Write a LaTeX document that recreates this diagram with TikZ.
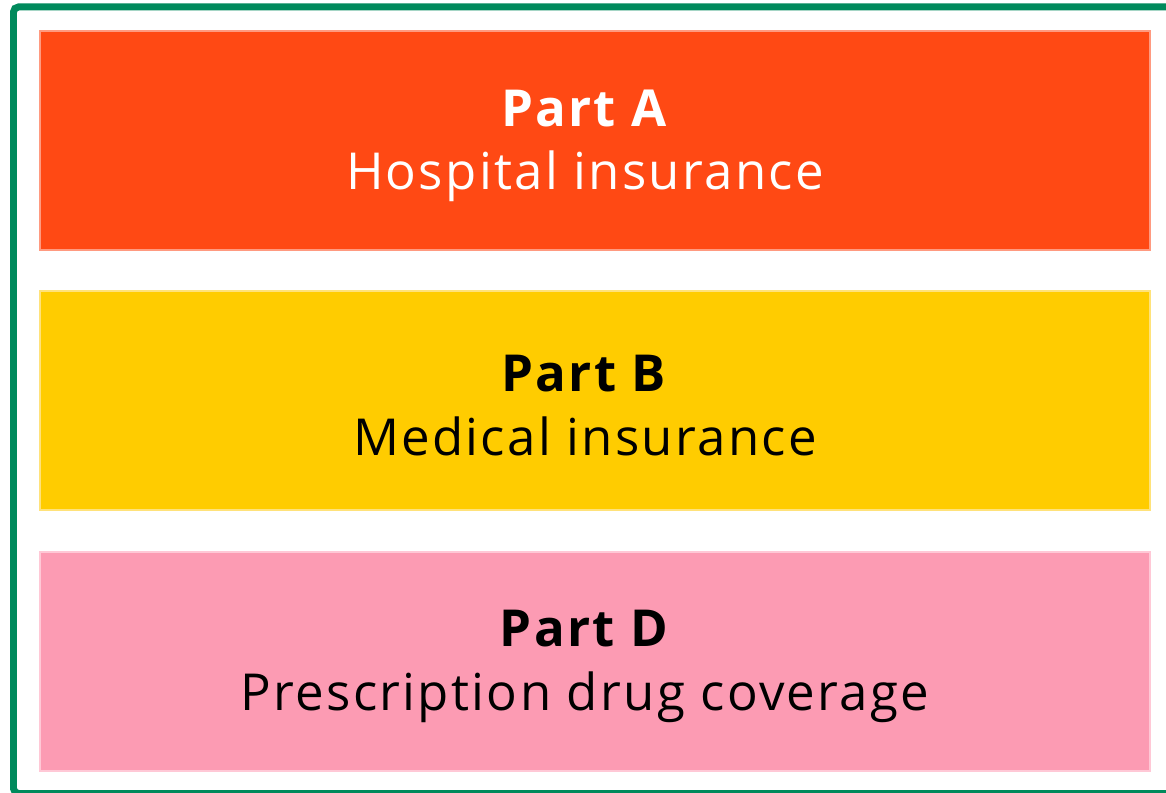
\documentclass[tikz,border=0pt]{standalone}
\usepackage{fontspec}
\setmainfont{Open Sans}[LetterSpace=4.5]
\usepackage{tikz}
\definecolor{frameGreen}{HTML}{008A5C}
\definecolor{partAfill}{HTML}{FF4914}
\definecolor{partAline}{HTML}{FF9A80}
\definecolor{partBfill}{HTML}{FFCC00}
\definecolor{partBline}{HTML}{FFE27A}
\definecolor{partDfill}{HTML}{FC9BB3}
\definecolor{partDline}{HTML}{FFC8D6}
\tikzset{
  partbox/.style={draw, line width=0.04cm, minimum width=22.2cm, minimum height=4.38cm, inner sep=0pt},
  parttext/.style={align=center, inner sep=0pt, font=\fontsize{29}{36}\selectfont},
}

\begin{document}
\begin{tikzpicture}[x=0.02cm, y=-0.02cm]
		%%%%% START %%%%%
		\useasboundingbox[clip] (0, 0) rectangle (1166, 793);
		\fill[white] (0, 0) rectangle (1166, 793);
		
		\draw[frameGreen, line width=0.14cm, rounded corners=0.1cm] (13.5, 7) rectangle (1200, 793.5);
		
		\node[partbox, fill=partAfill, draw=partAline] (partA) at (595, 140.5) {};
		\node[partbox, fill=partBfill, draw=partBline] (partB) at (595, 400.5) {};
		\node[partbox, fill=partDfill, draw=partDline] (partD) at (595, 661.5) {};
		
		\node[parttext, text=white] (partAtext) at ([xshift=-0.2cm, yshift=-0.1cm]partA.center)
			{\textbf{Part A}\\Hospital insurance};
		\node[parttext, text=black] (partBtext) at ([xshift=-0.2cm, yshift=-0.1cm]partB.center)
			{\textbf{Part B}\\Medical insurance};
		\node[parttext, text=black] (partDtext) at ([xshift=-0.2cm, yshift=-0.1cm]partD.center)
			{\textbf{Part D}\\Prescription drug coverage};
		%%%%% END %%%%%
\end{tikzpicture}
\end{document}
